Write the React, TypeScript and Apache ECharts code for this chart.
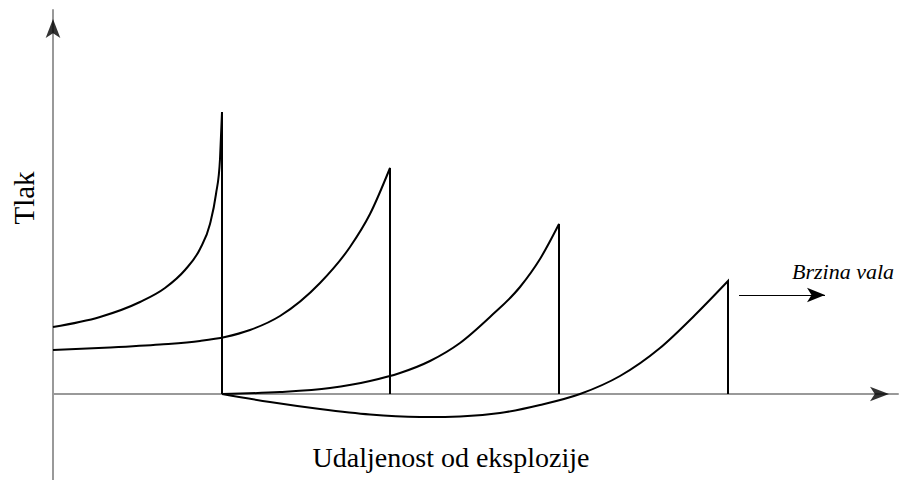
import React, { useEffect, useRef } from "react";
import * as echarts from "echarts";

// Schematic units: distance from the y axis, pressure above ambient (x axis = 0)
const wave1: [number, number][] = [
  [0, 67], [47, 77], [87, 92], [112, 106], [132, 124], [147, 145], [157, 170], [163, 200],
  [167, 235], [169, 282],
];
const wave2: [number, number][] = [
  [0, 44], [57, 46.5], [107, 49.5], [147, 53], [172, 57], [197, 64], [227, 78], [267, 111],
  [297, 147], [317, 180], [337, 226],
];
const wave3: [number, number][] = [
  [169, 0], [227, 2], [277, 6], [317, 13], [347, 21], [377, 33], [407, 51], [437, 77],
  [467, 107], [487, 135], [506, 170],
];
const wave4: [number, number][] = [
  [169, 0], [217, -8], [267, -15], [317, -20.5], [367, -23], [407, -22.5], [447, -19],
  [487, -11], [527, 0], [567, 18], [607, 46], [642, 79], [675, 113],
];
const waves = [wave1, wave2, wave3, wave4];

const X_MAX = 845;
const Y_MIN = -86;
const Y_MAX = 384;
const velocityArrow: [number, number][] = [[686, 99], [772, 99]];

const X_LABEL = "Udaljenost od eksplozije";
const Y_LABEL = "Tlak";
const VEL_LABEL = "Brzina vala";

// smooth cubic Hermite path (in x) through pixel points, then the shock-front drop
function smoothPath(pts: number[][], dropY: number): string {
  const n = pts.length;
  const s: number[] = [];
  for (let i = 0; i < n - 1; i++) {
    s.push((pts[i + 1][1] - pts[i][1]) / (pts[i + 1][0] - pts[i][0]));
  }
  const t: number[] = new Array(n).fill(0);
  for (let i = 1; i < n - 1; i++) {
    const h0 = pts[i][0] - pts[i - 1][0];
    const h1 = pts[i + 1][0] - pts[i][0];
    const s0 = s[i - 1];
    const s1 = s[i];
    let p = (s0 * h1 + s1 * h0) / (h0 + h1);
    if (Math.sign(s0) === Math.sign(s1)) {
      const lim = 3 * Math.min(Math.abs(s0), Math.abs(s1));
      if (Math.abs(p) > lim) p = Math.sign(p) * lim;
    }
    t[i] = p;
  }
  t[0] = (3 * s[0] - t[1]) / 2;
  t[n - 1] = (3 * s[n - 2] - t[n - 2]) / 2;
  let d = `M${pts[0][0]},${pts[0][1]}`;
  for (let i = 0; i < n - 1; i++) {
    const dx = (pts[i + 1][0] - pts[i][0]) / 3;
    d += ` C${pts[i][0] + dx},${pts[i][1] + dx * t[i]} ${pts[i + 1][0] - dx},${pts[i + 1][1] - dx * t[i + 1]} ${pts[i + 1][0]},${pts[i + 1][1]}`;
  }
  d += ` L${pts[n - 1][0]},${dropY}`;
  return d;
}

export default function App() {
  const ref = useRef<HTMLDivElement>(null);
  useEffect(() => {
    if (!ref.current) return;
    const chart = echarts.init(ref.current, undefined, { renderer: "svg" });
    const waveSeries = {
      type: "custom",
      coordinateSystem: "cartesian2d",
      data: waves.map((w, i) => [w[0][0], w[0][1], i]),
      encode: { x: 0, y: 1 },
      silent: true,
      z: 5,
      renderItem: (params: any, api: any) => {
        const w = waves[api.value(2)];
        const pts = w.map((p) => api.coord(p));
        const last = w[w.length - 1];
        const base = api.coord([last[0], 0]);
        return {
          type: "path",
          shape: { pathData: smoothPath(pts, base[1]) },
          style: { stroke: "#000", lineWidth: 2, fill: "none", lineJoin: "miter" },
        };
      },
    };
    const arrowSeries = {
      type: "scatter",
      data: [
        { value: [X_MAX, 0], symbolRotate: -90, symbolOffset: [-9, 0] },
        { value: [0, Y_MAX], symbolRotate: 0, symbolOffset: [0, 9] },
      ],
      symbol: "arrow",
      symbolSize: [11, 19],
      itemStyle: { color: "#000" },
      silent: true,
      z: 6,
      markLine: {
        silent: true,
        symbol: ["none", "arrow"],
        symbolSize: [11, 18],
        label: { show: false },
        lineStyle: { color: "#000", width: 1, type: "solid" },
        data: [[{ coord: velocityArrow[0] }, { coord: velocityArrow[1] }]],
      },
    };
    chart.setOption({
      animation: false,
      grid: { left: 53, right: 13, top: 10, bottom: 0, containLabel: false },
      xAxis: {
        type: "value",
        min: 0,
        max: X_MAX,
        axisLine: { show: true, onZero: true, lineStyle: { color: "#999", width: 2 } },
        axisTick: { show: false },
        axisLabel: { show: false },
        splitLine: { show: false },
      },
      yAxis: {
        type: "value",
        min: Y_MIN,
        max: Y_MAX,
        axisLine: { show: true, onZero: false, lineStyle: { color: "#999", width: 2 } },
        axisTick: { show: false },
        axisLabel: { show: false },
        splitLine: { show: false },
      },
      series: [waveSeries, arrowSeries],
      graphic: [
        {
          type: "text",
          x: 24,
          y: 198,
          rotation: Math.PI / 2,
          style: {
            text: Y_LABEL,
            font: "29px 'Liberation Serif'",
            fill: "#000",
            align: "center",
            verticalAlign: "middle",
          },
        },
        {
          type: "text",
          x: 451,
          y: 457,
          style: {
            text: X_LABEL,
            font: "28px 'Liberation Serif'",
            fill: "#000",
            align: "center",
            verticalAlign: "middle",
          },
        },
        {
          type: "text",
          x: 792,
          y: 271,
          style: {
            text: VEL_LABEL,
            font: "italic 22px 'Liberation Serif'",
            fill: "#000",
            align: "left",
            verticalAlign: "middle",
          },
        },
      ],
    });
    return () => chart.dispose();
  }, []);
  return <div ref={ref} style={{ width: 911, height: 480, position: "absolute", left: 0, top: 0, background: "#fff" }} />;
}
